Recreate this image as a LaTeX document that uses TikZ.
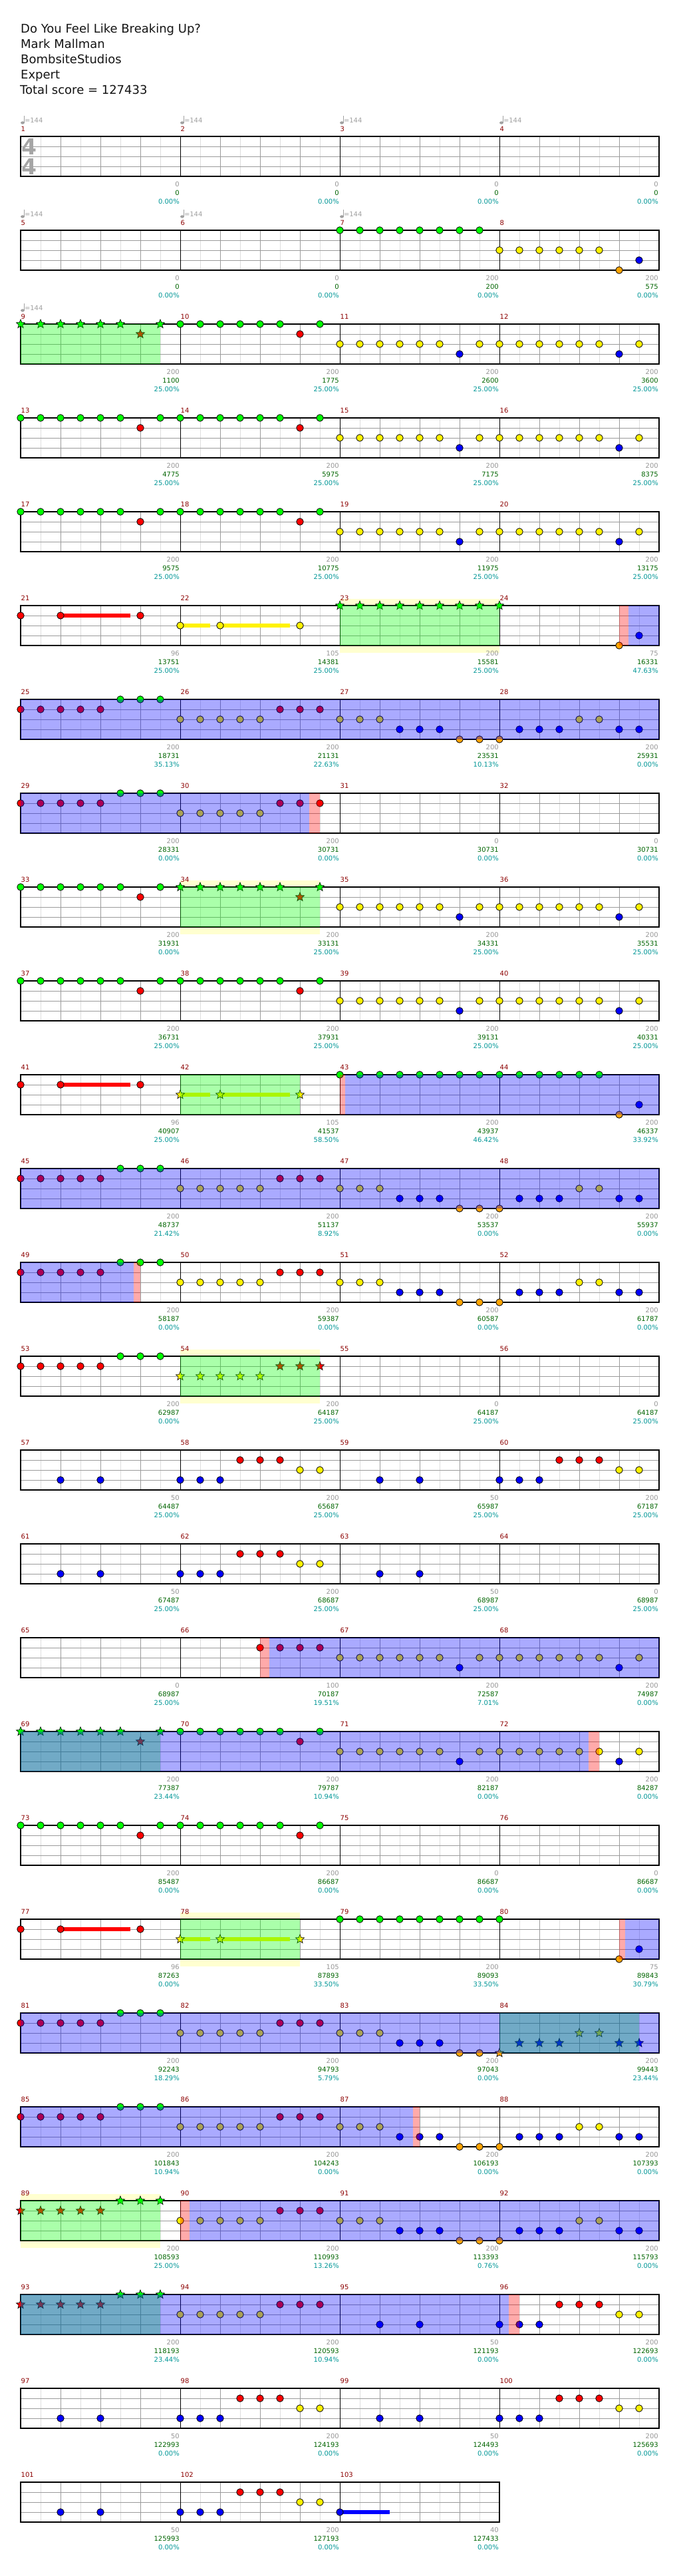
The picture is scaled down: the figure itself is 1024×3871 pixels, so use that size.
\documentclass[tikz,border=0pt]{standalone}
\usepackage{fontspec}
\setmainfont{DejaVu Sans}
\usetikzlibrary{shapes.geometric}

\definecolor{gridlt}{RGB}{222,222,222}
\definecolor{gridmd}{RGB}{155,155,155}
\definecolor{tempogray}{RGB}{160,160,160}
\definecolor{sigray}{RGB}{165,165,165}
\definecolor{numred}{RGB}{139,0,0}
\definecolor{scoregray}{RGB}{150,150,150}
\definecolor{totalgreen}{RGB}{0,100,0}
\definecolor{pctcyan}{RGB}{0,150,150}
\definecolor{fretorange}{RGB}{255,165,0}
\definecolor{paleyellow}{RGB}{255,255,208}
\definecolor{titleblack}{RGB}{20,20,20}

\newcommand\chlbl{\fontsize{10}{12}\selectfont}
\newcommand\chtitle{\fontsize{18}{22}\selectfont}
\newcommand\chsig{\fontsize{33}{36}\selectfont\bfseries}

\pgfdeclarelayer{grid}
\pgfdeclarelayer{tails}
\pgfsetlayers{grid,tails,main}

% notes of one lane: style, lane, eighths
\newcommand\notes[3]{\foreach \e in {#3} {\node[#1] (n\mnum-#2-\e) at (\e*30,#2*15) {};}}
% held note: style, tail colour, lane, eighth, end of tail
\newcommand\held[5]{%
  \node[#1] (n\mnum-#3-#4) at (#4*30,#3*15) {};
  \coordinate (e\mnum-#3-#4) at (#5*30,#3*15);
  \begin{pgfonlayer}{tails}\draw[tail, #2] (n\mnum-#3-#4.center) -- (e\mnum-#3-#4);\end{pgfonlayer}}

% patterns that repeat
\newcommand\patA[1]{\notes{g#1}{0}{0,...,5,7}\notes{r#1}{1}{6}}
\newcommand\patB[1]{\notes{y#1}{2}{0,...,5,7}\notes{b#1}{3}{6}}
\newcommand\patC[1]{\notes{r#1}{1}{0,6}\held{r#1}{red}{1}{2}{5.5}}
\newcommand\patD[1]{\held{y#1}{yellow}{2}{0}{1.5}\held{y#1}{yellow}{2}{2}{5.5}\notes{y#1}{2}{6}}
\newcommand\patE[1]{\notes{r#1}{1}{0,...,4}\notes{g#1}{0}{5,6,7}}
\newcommand\patF[1]{\notes{y#1}{2}{0,...,4}\notes{r#1}{1}{5,6,7}}
\newcommand\patG[1]{\notes{y#1}{2}{0,1,2}\notes{b#1}{3}{3,4,5}\notes{o#1}{4}{6,7}}
\newcommand\patH[1]{\notes{o#1}{4}{0}\notes{b#1}{3}{1,2,3}\notes{y#1}{2}{4,5}\notes{b#1}{3}{6,7}}
\newcommand\patI[1]{\notes{b#1}{3}{2,4}}
\newcommand\patJ[1]{\notes{b#1}{3}{0,1,2}\notes{r#1}{1}{3,4,5}\notes{y#1}{2}{6,7}}
\newcommand\patK[1]{\notes{g#1}{0}{0,...,7}}

% tempo mark at the start of a measure
\newcommand\tempo{%
  \fill[tempogray] (3,-20.5) ellipse [x radius=2.9, y radius=2.2];
  \draw[tempogray, line width=1pt] (5.3,-20.5) -- (5.3,-31);
  \node[tempolbl] (tp\mnum) at (5.8,-24) {=144};}

% measure: number, score, total, percent, notes
\newcommand\meas[5]{%
  \pgfmathtruncatemacro\mrow{(#1-1)/4}%
  \pgfmathtruncatemacro\mcol{#1-1-4*\mrow}%
  \begin{scope}[shift={(31+240*\mcol,205+141*\mrow)}]
    \def\mnum{#1}
    \node[numlbl] (mn#1) at (0.5,-11.5) {#1};
    #5
    \node[scorelbl] (sc#1) at (239,72) {#2};
    \node[totallbl] (tot#1) at (239,85) {#3};
    \node[pctlbl] (pc#1) at (239,98) {#4\%};
  \end{scope}}

% overlays: style, row, from, to (in eighths)
\newcommand\zone[4]{\fill[#1] (31+30*#3,205+141*#2) rectangle (31+30*#4,265+141*#2);}
\newcommand\glow[3]{%
  \fill[phrasezone] (31+30*#2,195+141*#1) rectangle (31+30*#3,205+141*#1);
  \fill[phrasezone] (31+30*#2,265+141*#1) rectangle (31+30*#3,276+141*#1);}

\begin{document}
\begin{tikzpicture}[x=1pt, y=-1pt,
    note/.style={circle, draw=black, line width=0.8pt, minimum size=10.5pt, inner sep=0pt},
    gnote/.style={note, fill=green},
    rnote/.style={note, fill=red},
    ynote/.style={note, fill=yellow},
    bnote/.style={note, fill=blue},
    onote/.style={note, fill=fretorange},
    starnote/.style={star, star points=5, star point ratio=2.3, draw=black, line width=0.6pt, minimum size=14pt, inner sep=0pt},
    gstar/.style={starnote, fill=green},
    rstar/.style={starnote, fill=red},
    ystar/.style={starnote, fill=yellow},
    bstar/.style={starnote, fill=blue},
    ostar/.style={starnote, fill=fretorange},
    tail/.style={line width=6.5pt},
    eighthline/.style={draw=gridlt, line width=1pt},
    beatline/.style={draw=gridmd, line width=1pt},
    barline/.style={draw=black, line width=1pt},
    staffframe/.style={draw=black, line width=1.6pt},
    spzone/.style={fill=green, fill opacity=0.333},
    activezone/.style={fill=blue, fill opacity=0.333},
    endzone/.style={fill=red, fill opacity=0.333},
    phrasezone/.style={fill=paleyellow},
    numlbl/.style={anchor=west, text=numred, font=\chlbl, inner sep=0pt},
    scorelbl/.style={anchor=east, text=scoregray, font=\chlbl, inner sep=0pt},
    totallbl/.style={anchor=east, text=totalgreen, font=\chlbl, inner sep=0pt},
    pctlbl/.style={anchor=east, text=pctcyan, font=\chlbl, inner sep=0pt},
    tempolbl/.style={anchor=west, text=tempogray, font=\chlbl, inner sep=0pt},
    timesig/.style={text=sigray, font=\chsig, inner sep=0pt},
    titlelbl/.style={anchor=base west, text=titleblack, font=\chtitle, inner sep=0pt}
  ]
  \useasboundingbox (0,0) rectangle (1024,3871);

  % heading
  \node[titlelbl] (title) at (31,49) {Do You Feel Like Breaking Up?};
  \node[titlelbl] (artist) at (31,72) {Mark Mallman};
  \node[titlelbl] (charter) at (31,95) {BombsiteStudios};
  \node[titlelbl] (level) at (31,118) {Expert};
  \node[titlelbl] (total) at (30,141) {Total score = 127433};

  % staves
  \begin{pgfonlayer}{grid}
    \glow{5}{16}{24}
    \glow{8}{8}{15}
    \glow{13}{8}{15}
    \glow{19}{8}{14}
    \glow{22}{0}{7}
    \foreach \r in {0,...,25} {
      \pgfmathtruncatemacro\w{\r==25 ? 720 : 960}
      \pgfmathtruncatemacro\t{205+141*\r}
      \foreach \k in {30,90,...,\w} \draw[eighthline] (31+\k,\t) -- (31+\k,\t+60);
      \foreach \k in {60,120,...,\w} \draw[beatline] (31+\k,\t) -- (31+\k,\t+60);
      \foreach \l in {15,30,45} \draw[beatline] (31,\t+\l) -- (31+\w,\t+\l);
      \foreach \k in {240,480,...,\w} \draw[barline] (31+\k,\t) -- (31+\k,\t+60);
      \draw[staffframe] (31,\t) rectangle (31+\w,\t+60);
    }
  \end{pgfonlayer}

  % rows 1-2: measures 1-8
  \meas{1}{0}{0}{0.00}{\tempo
    \node[timesig] (sigtop) at (13,15) {4};
    \node[timesig] (sigbot) at (13,45) {4};}
  \meas{2}{0}{0}{0.00}{\tempo}
  \meas{3}{0}{0}{0.00}{\tempo}
  \meas{4}{0}{0}{0.00}{\tempo}
  \meas{5}{0}{0}{0.00}{\tempo}
  \meas{6}{0}{0}{0.00}{\tempo}
  \meas{7}{200}{200}{0.00}{\tempo\patK{note}}
  \meas{8}{200}{575}{0.00}{\notes{ynote}{2}{0,...,5}\notes{onote}{4}{6}\notes{bnote}{3}{7}}

  % rows 3-5: measures 9-20
  \meas{9}{200}{1100}{25.00}{\tempo\patA{star}}
  \meas{10}{200}{1775}{25.00}{\patA{note}}
  \meas{11}{200}{2600}{25.00}{\patB{note}}
  \meas{12}{200}{3600}{25.00}{\patB{note}}
  \meas{13}{200}{4775}{25.00}{\patA{note}}
  \meas{14}{200}{5975}{25.00}{\patA{note}}
  \meas{15}{200}{7175}{25.00}{\patB{note}}
  \meas{16}{200}{8375}{25.00}{\patB{note}}
  \meas{17}{200}{9575}{25.00}{\patA{note}}
  \meas{18}{200}{10775}{25.00}{\patA{note}}
  \meas{19}{200}{11975}{25.00}{\patB{note}}
  \meas{20}{200}{13175}{25.00}{\patB{note}}

  % rows 6-8: measures 21-32
  \meas{21}{96}{13751}{25.00}{\patC{note}}
  \meas{22}{105}{14381}{25.00}{\patD{note}}
  \meas{23}{200}{15581}{25.00}{\patK{star}}
  \meas{24}{75}{16331}{47.63}{\notes{gstar}{0}{0}\notes{onote}{4}{6}\notes{bnote}{3}{7}}
  \meas{25}{200}{18731}{35.13}{\patE{note}}
  \meas{26}{200}{21131}{22.63}{\patF{note}}
  \meas{27}{200}{23531}{10.13}{\patG{note}}
  \meas{28}{200}{25931}{0.00}{\patH{note}}
  \meas{29}{200}{28331}{0.00}{\patE{note}}
  \meas{30}{200}{30731}{0.00}{\patF{note}}
  \meas{31}{0}{30731}{0.00}{}
  \meas{32}{0}{30731}{0.00}{}

  % rows 9-11: measures 33-44
  \meas{33}{200}{31931}{0.00}{\patA{note}}
  \meas{34}{200}{33131}{25.00}{\patA{star}}
  \meas{35}{200}{34331}{25.00}{\patB{note}}
  \meas{36}{200}{35531}{25.00}{\patB{note}}
  \meas{37}{200}{36731}{25.00}{\patA{note}}
  \meas{38}{200}{37931}{25.00}{\patA{note}}
  \meas{39}{200}{39131}{25.00}{\patB{note}}
  \meas{40}{200}{40331}{25.00}{\patB{note}}
  \meas{41}{96}{40907}{25.00}{\patC{note}}
  \meas{42}{105}{41537}{58.50}{\patD{star}}
  \meas{43}{200}{43937}{46.42}{\patK{note}}
  \meas{44}{200}{46337}{33.92}{\notes{gnote}{0}{0,...,5}\notes{onote}{4}{6}\notes{bnote}{3}{7}}

  % rows 12-14: measures 45-56
  \meas{45}{200}{48737}{21.42}{\patE{note}}
  \meas{46}{200}{51137}{8.92}{\patF{note}}
  \meas{47}{200}{53537}{0.00}{\patG{note}}
  \meas{48}{200}{55937}{0.00}{\patH{note}}
  \meas{49}{200}{58187}{0.00}{\patE{note}}
  \meas{50}{200}{59387}{0.00}{\patF{note}}
  \meas{51}{200}{60587}{0.00}{\patG{note}}
  \meas{52}{200}{61787}{0.00}{\patH{note}}
  \meas{53}{200}{62987}{0.00}{\patE{note}}
  \meas{54}{200}{64187}{25.00}{\patF{star}}
  \meas{55}{0}{64187}{25.00}{}
  \meas{56}{0}{64187}{25.00}{}

  % rows 15-17: measures 57-68
  \meas{57}{50}{64487}{25.00}{\patI{note}}
  \meas{58}{200}{65687}{25.00}{\patJ{note}}
  \meas{59}{50}{65987}{25.00}{\patI{note}}
  \meas{60}{200}{67187}{25.00}{\patJ{note}}
  \meas{61}{50}{67487}{25.00}{\patI{note}}
  \meas{62}{200}{68687}{25.00}{\patJ{note}}
  \meas{63}{50}{68987}{25.00}{\patI{note}}
  \meas{64}{0}{68987}{25.00}{}
  \meas{65}{0}{68987}{25.00}{}
  \meas{66}{100}{70187}{19.51}{\notes{rnote}{1}{4,...,7}}
  \meas{67}{200}{72587}{7.01}{\patB{note}}
  \meas{68}{200}{74987}{0.00}{\patB{note}}

  % rows 18-20: measures 69-80
  \meas{69}{200}{77387}{23.44}{\patA{star}}
  \meas{70}{200}{79787}{10.94}{\patA{note}}
  \meas{71}{200}{82187}{0.00}{\patB{note}}
  \meas{72}{200}{84287}{0.00}{\patB{note}}
  \meas{73}{200}{85487}{0.00}{\patA{note}}
  \meas{74}{200}{86687}{0.00}{\patA{note}}
  \meas{75}{0}{86687}{0.00}{}
  \meas{76}{0}{86687}{0.00}{}
  \meas{77}{96}{87263}{0.00}{\patC{note}}
  \meas{78}{105}{87893}{33.50}{\patD{star}}
  \meas{79}{200}{89093}{33.50}{\patK{note}}
  \meas{80}{75}{89843}{30.79}{\notes{gnote}{0}{0}\notes{onote}{4}{6}\notes{bnote}{3}{7}}

  % rows 21-23: measures 81-92
  \meas{81}{200}{92243}{18.29}{\patE{note}}
  \meas{82}{200}{94793}{5.79}{\patF{note}}
  \meas{83}{200}{97043}{0.00}{\patG{note}}
  \meas{84}{200}{99443}{23.44}{\patH{star}}
  \meas{85}{200}{101843}{10.94}{\patE{note}}
  \meas{86}{200}{104243}{0.00}{\patF{note}}
  \meas{87}{200}{106193}{0.00}{\patG{note}}
  \meas{88}{200}{107393}{0.00}{\patH{note}}
  \meas{89}{200}{108593}{25.00}{\patE{star}}
  \meas{90}{200}{110993}{13.26}{\patF{note}}
  \meas{91}{200}{113393}{0.76}{\patG{note}}
  \meas{92}{200}{115793}{0.00}{\patH{note}}

  % rows 24-26: measures 93-103
  \meas{93}{200}{118193}{23.44}{\patE{star}}
  \meas{94}{200}{120593}{10.94}{\patF{note}}
  \meas{95}{50}{121193}{0.00}{\patI{note}}
  \meas{96}{200}{122693}{0.00}{\patJ{note}}
  \meas{97}{50}{122993}{0.00}{\patI{note}}
  \meas{98}{200}{124193}{0.00}{\patJ{note}}
  \meas{99}{50}{124493}{0.00}{\patI{note}}
  \meas{100}{200}{125693}{0.00}{\patJ{note}}
  \meas{101}{50}{125993}{0.00}{\patI{note}}
  \meas{102}{200}{127193}{0.00}{\patJ{note}}
  \meas{103}{40}{127433}{0.00}{\held{bnote}{blue}{3}{0}{2.5}}

  % star power phrases
  \zone{spzone}{2}{0}{7}
  \zone{spzone}{5}{16}{24}
  \zone{spzone}{8}{8}{15}
  \zone{spzone}{10}{8}{14}
  \zone{spzone}{13}{8}{15}
  \zone{spzone}{17}{0}{7}
  \zone{spzone}{19}{8}{14}
  \zone{spzone}{20}{24}{31}
  \zone{spzone}{22}{0}{7}
  \zone{spzone}{23}{0}{7}

  % star power in use
  \zone{endzone}{5}{30}{30.46}
  \zone{activezone}{5}{30.46}{32}
  \zone{activezone}{6}{0}{32}
  \zone{activezone}{7}{0}{14.46}
  \zone{endzone}{7}{14.46}{15}
  \zone{endzone}{10}{16}{16.27}
  \zone{activezone}{10}{16.27}{32}
  \zone{activezone}{11}{0}{32}
  \zone{activezone}{12}{0}{5.67}
  \zone{endzone}{12}{5.67}{6}
  \zone{endzone}{16}{12}{12.45}
  \zone{activezone}{16}{12.45}{32}
  \zone{activezone}{17}{0}{28.46}
  \zone{endzone}{17}{28.46}{29}
  \zone{endzone}{19}{30}{30.3}
  \zone{activezone}{19}{30.3}{32}
  \zone{activezone}{20}{0}{32}
  \zone{activezone}{21}{0}{19.65}
  \zone{endzone}{21}{19.65}{20}
  \zone{endzone}{22}{8}{8.45}
  \zone{activezone}{22}{8.45}{32}
  \zone{activezone}{23}{0}{24.46}
  \zone{endzone}{23}{24.46}{25}
\end{tikzpicture}
\end{document}
